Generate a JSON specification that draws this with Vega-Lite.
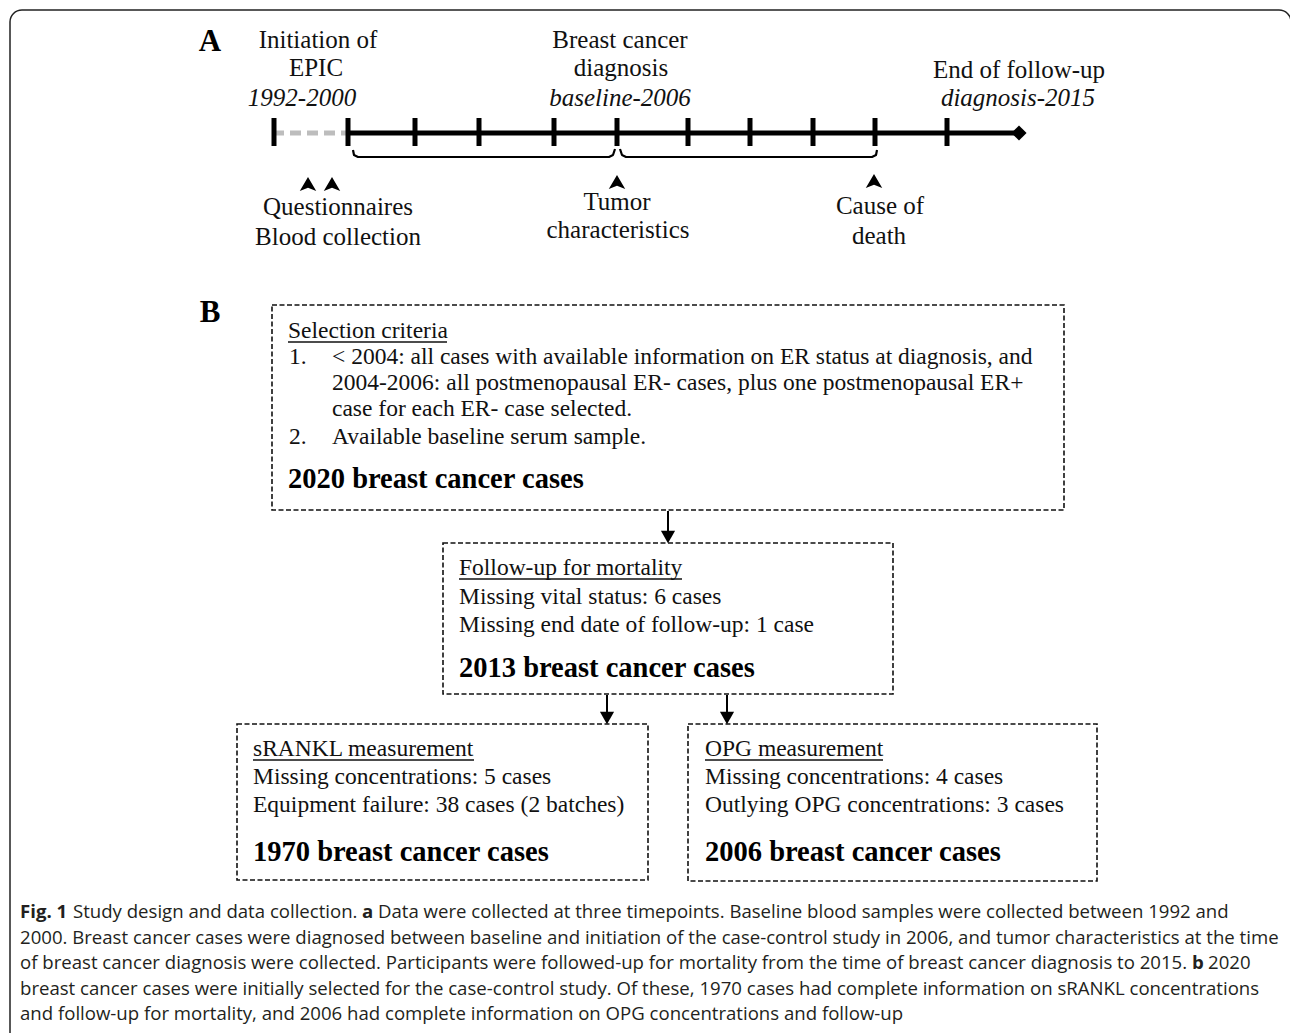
{
  "$schema": "https://vega.github.io/schema/vega-lite/v6.json",
  "width": 1290,
  "height": 1033,
  "padding": 0,
  "autosize": {"type": "none"},
  "background": "white",
  "config": {"view": {"stroke": null}},
  "datasets": {
    "frame": [{"x0": 10, "x1": 1291, "y0": 10, "y1": 1050}],
    "boxes": [
      {"id": "selection", "x0": 272, "x1": 1064, "y0": 305, "y1": 510},
      {"id": "followup", "x0": 443, "x1": 893, "y0": 543, "y1": 694},
      {"id": "srankl", "x0": 237, "x1": 648, "y0": 724, "y1": 880},
      {"id": "opg", "x0": 688, "x1": 1097, "y0": 724, "y1": 881}
    ],
    "timeline": [
      {"seg": "before", "x0": 273, "x1": 346, "y": 133},
      {"seg": "after", "x0": 348, "x1": 1019, "y": 133}
    ],
    "ticks": [
      {"x": 274, "y0": 118, "y1": 146}, {"x": 348, "y0": 118, "y1": 146},
      {"x": 415, "y0": 118, "y1": 146}, {"x": 479, "y0": 118, "y1": 146},
      {"x": 554, "y0": 118, "y1": 146}, {"x": 617, "y0": 118, "y1": 146},
      {"x": 688, "y0": 118, "y1": 146}, {"x": 750, "y0": 118, "y1": 146},
      {"x": 813, "y0": 118, "y1": 146}, {"x": 875, "y0": 118, "y1": 146},
      {"x": 947, "y0": 118, "y1": 146}
    ],
    "end": [{"x": 1019, "y": 133}],
    "brackets": [
      {"b": "pre", "o": 1, "x": 353, "y": 150}, {"b": "pre", "o": 2, "x": 354, "y": 155},
      {"b": "pre", "o": 3, "x": 358, "y": 157}, {"b": "pre", "o": 4, "x": 609, "y": 157},
      {"b": "pre", "o": 5, "x": 613, "y": 155}, {"b": "pre", "o": 6, "x": 615, "y": 149},
      {"b": "post", "o": 1, "x": 620, "y": 149}, {"b": "post", "o": 2, "x": 622, "y": 155},
      {"b": "post", "o": 3, "x": 626, "y": 157}, {"b": "post", "o": 4, "x": 872, "y": 157},
      {"b": "post", "o": 5, "x": 876, "y": 155}, {"b": "post", "o": 6, "x": 877, "y": 150}
    ],
    "pointers": [
      {"x": 308, "y": 184}, {"x": 332, "y": 184}, {"x": 617, "y": 182}, {"x": 874, "y": 181}
    ],
    "flows": [
      {"x": 668, "y0": 511, "y1": 534, "yh": 537},
      {"x": 607, "y0": 695, "y1": 715, "yh": 718},
      {"x": 727, "y0": 695, "y1": 715, "yh": 718}
    ],
    "underlines": [
      {"x0": 288, "x1": 447, "y": 342},
      {"x0": 459, "x1": 682, "y": 579},
      {"x0": 253, "x1": 474, "y": 760},
      {"x0": 705, "x1": 883, "y": 760}
    ],
    "texts": [
      {"role": "tl", "t": "Initiation of", "x": 318, "y": 40},
      {"role": "tl", "t": "EPIC", "x": 316, "y": 68},
      {"role": "tl", "t": "Breast cancer", "x": 620, "y": 40},
      {"role": "tl", "t": "diagnosis", "x": 621, "y": 68},
      {"role": "tl", "t": "End of follow-up", "x": 1019, "y": 70},
      {"role": "tl", "t": "Questionnaires", "x": 338, "y": 207},
      {"role": "tl", "t": "Blood collection", "x": 338, "y": 237},
      {"role": "tl", "t": "Tumor", "x": 617, "y": 202},
      {"role": "tl", "t": "characteristics", "x": 618, "y": 230},
      {"role": "tl", "t": "Cause of", "x": 880, "y": 206},
      {"role": "tl", "t": "death", "x": 879, "y": 236},
      {"role": "tli", "t": "1992-2000", "x": 302, "y": 98},
      {"role": "tli", "t": "baseline-2006", "x": 620, "y": 98},
      {"role": "tli", "t": "diagnosis-2015", "x": 1018, "y": 98},
      {"role": "panel", "t": "A", "x": 210, "y": 42},
      {"role": "panel", "t": "B", "x": 210, "y": 313},
      {"role": "body", "t": "Selection criteria", "x": 288, "y": 331},
      {"role": "body", "t": "1.", "x": 289, "y": 357},
      {"role": "body", "t": "< 2004: all cases with available information on ER status at diagnosis, and", "x": 332, "y": 357},
      {"role": "body", "t": "2004-2006: all postmenopausal ER- cases, plus one postmenopausal ER+", "x": 332, "y": 383},
      {"role": "body", "t": "case for each ER- case selected.", "x": 332, "y": 409},
      {"role": "body", "t": "2.", "x": 289, "y": 437},
      {"role": "body", "t": "Available baseline serum sample.", "x": 332, "y": 437},
      {"role": "body", "t": "Follow-up for mortality", "x": 459, "y": 568},
      {"role": "body", "t": "Missing vital status: 6 cases", "x": 459, "y": 597},
      {"role": "body", "t": "Missing end date of follow-up: 1 case", "x": 459, "y": 625},
      {"role": "body", "t": "sRANKL measurement", "x": 253, "y": 749},
      {"role": "body", "t": "Missing concentrations: 5 cases", "x": 253, "y": 777},
      {"role": "body", "t": "Equipment failure: 38 cases (2 batches)", "x": 253, "y": 805},
      {"role": "body", "t": "OPG measurement", "x": 705, "y": 749},
      {"role": "body", "t": "Missing concentrations: 4 cases", "x": 705, "y": 777},
      {"role": "body", "t": "Outlying OPG concentrations: 3 cases", "x": 705, "y": 805},
      {"role": "count", "t": "2020 breast cancer cases", "x": 288, "y": 479},
      {"role": "count", "t": "2013 breast cancer cases", "x": 459, "y": 668},
      {"role": "count", "t": "1970 breast cancer cases", "x": 253, "y": 852},
      {"role": "count", "t": "2006 breast cancer cases", "x": 705, "y": 852},
      {"role": "capb", "t": "Fig. 1", "x": 20, "y": 912},
      {"role": "cap", "t": "Study design and data collection.", "x": 73, "y": 912},
      {"role": "capb", "t": "a", "x": 362, "y": 912},
      {"role": "cap", "t": "Data were collected at three timepoints. Baseline blood samples were collected between 1992 and", "x": 378, "y": 912},
      {"role": "cap", "t": "2000. Breast cancer cases were diagnosed between baseline and initiation of the case-control study in 2006, and tumor characteristics at the time", "x": 20, "y": 938},
      {"role": "cap", "t": "of breast cancer diagnosis were collected. Participants were followed-up for mortality from the time of breast cancer diagnosis to 2015.", "x": 20, "y": 963},
      {"role": "capb", "t": "b", "x": 1192, "y": 963},
      {"role": "cap", "t": "2020", "x": 1208, "y": 963},
      {"role": "cap", "t": "breast cancer cases were initially selected for the case-control study. Of these, 1970 cases had complete information on sRANKL concentrations", "x": 20, "y": 989},
      {"role": "cap", "t": "and follow-up for mortality, and 2006 had complete information on OPG concentrations and follow-up", "x": 20, "y": 1014}
    ]
  },
  "layer": [
    {
      "data": {"name": "frame"},
      "mark": {"type": "rect", "fill": "white", "fillOpacity": 0, "stroke": "#222222", "strokeWidth": 1.5, "cornerRadius": 12},
      "encoding": {
        "x": {"field": "x0", "type": "quantitative", "scale": {"domain": [0, 1290], "nice": false, "zero": false}, "axis": null},
        "x2": {"field": "x1"},
        "y": {"field": "y0", "type": "quantitative", "scale": {"domain": [0, 1033], "nice": false, "zero": false, "reverse": true}, "axis": null},
        "y2": {"field": "y1"}
      }
    },
    {
      "data": {"name": "boxes"},
      "mark": {"type": "rect", "fill": "white", "fillOpacity": 0, "stroke": "#111111", "strokeWidth": 1.6, "strokeDash": [5, 2.5]},
      "encoding": {
        "x": {"field": "x0", "type": "quantitative", "axis": null},
        "x2": {"field": "x1"},
        "y": {"field": "y0", "type": "quantitative", "axis": null},
        "y2": {"field": "y1"}
      }
    },
    {
      "data": {"name": "timeline"},
      "transform": [{"filter": "datum.seg === 'before'"}],
      "mark": {"type": "rule", "stroke": "#bdbdbd", "strokeWidth": 5, "strokeDash": [11, 6]},
      "encoding": {
        "x": {"field": "x0", "type": "quantitative", "axis": null},
        "x2": {"field": "x1"},
        "y": {"field": "y", "type": "quantitative", "axis": null}
      }
    },
    {
      "data": {"name": "timeline"},
      "transform": [{"filter": "datum.seg === 'after'"}],
      "mark": {"type": "rule", "stroke": "#000000", "strokeWidth": 5},
      "encoding": {
        "x": {"field": "x0", "type": "quantitative", "axis": null},
        "x2": {"field": "x1"},
        "y": {"field": "y", "type": "quantitative", "axis": null}
      }
    },
    {
      "data": {"name": "ticks"},
      "mark": {"type": "rule", "stroke": "#000000", "strokeWidth": 5},
      "encoding": {
        "x": {"field": "x", "type": "quantitative", "axis": null},
        "y": {"field": "y0", "type": "quantitative", "axis": null},
        "y2": {"field": "y1"}
      }
    },
    {
      "data": {"name": "end"},
      "mark": {"type": "point", "shape": "diamond", "filled": true, "color": "#000000", "size": 230, "opacity": 1},
      "encoding": {
        "x": {"field": "x", "type": "quantitative", "axis": null},
        "y": {"field": "y", "type": "quantitative", "axis": null}
      }
    },
    {
      "data": {"name": "brackets"},
      "mark": {"type": "line", "stroke": "#000000", "strokeWidth": 2.2, "strokeJoin": "round"},
      "encoding": {
        "x": {"field": "x", "type": "quantitative", "axis": null},
        "y": {"field": "y", "type": "quantitative", "axis": null},
        "detail": {"field": "b"},
        "order": {"field": "o"}
      }
    },
    {
      "data": {"name": "pointers"},
      "mark": {"type": "point", "shape": "M0,-0.85L1,0.85L0,0.45L-1,0.85Z", "filled": true, "color": "#000000", "size": 270, "opacity": 1},
      "encoding": {
        "x": {"field": "x", "type": "quantitative", "axis": null},
        "y": {"field": "y", "type": "quantitative", "axis": null}
      }
    },
    {
      "data": {"name": "flows"},
      "mark": {"type": "rule", "stroke": "#000000", "strokeWidth": 2},
      "encoding": {
        "x": {"field": "x", "type": "quantitative", "axis": null},
        "y": {"field": "y0", "type": "quantitative", "axis": null},
        "y2": {"field": "y1"}
      }
    },
    {
      "data": {"name": "flows"},
      "mark": {"type": "point", "shape": "M-1,-0.9L1,-0.9L0,0.9Z", "filled": true, "color": "#000000", "size": 200, "opacity": 1},
      "encoding": {
        "x": {"field": "x", "type": "quantitative", "axis": null},
        "y": {"field": "yh", "type": "quantitative", "axis": null}
      }
    },
    {
      "data": {"name": "underlines"},
      "mark": {"type": "rule", "stroke": "#111111", "strokeWidth": 1.3},
      "encoding": {
        "x": {"field": "x0", "type": "quantitative", "axis": null},
        "x2": {"field": "x1"},
        "y": {"field": "y", "type": "quantitative", "axis": null}
      }
    },
    {
      "data": {"name": "texts"},
      "transform": [{"filter": "datum.role === 'tl'"}],
      "mark": {"type": "text", "font": "Liberation Serif", "fontSize": 25, "align": "center", "baseline": "middle", "color": "#111111"},
      "encoding": {
        "x": {"field": "x", "type": "quantitative", "axis": null},
        "y": {"field": "y", "type": "quantitative", "axis": null},
        "text": {"field": "t"}
      }
    },
    {
      "data": {"name": "texts"},
      "transform": [{"filter": "datum.role === 'tli'"}],
      "mark": {"type": "text", "font": "Liberation Serif", "fontSize": 25, "fontStyle": "italic", "align": "center", "baseline": "middle", "color": "#111111"},
      "encoding": {
        "x": {"field": "x", "type": "quantitative", "axis": null},
        "y": {"field": "y", "type": "quantitative", "axis": null},
        "text": {"field": "t"}
      }
    },
    {
      "data": {"name": "texts"},
      "transform": [{"filter": "datum.role === 'panel'"}],
      "mark": {"type": "text", "font": "Liberation Serif", "fontSize": 31, "fontWeight": "bold", "align": "center", "baseline": "middle", "color": "#000000"},
      "encoding": {
        "x": {"field": "x", "type": "quantitative", "axis": null},
        "y": {"field": "y", "type": "quantitative", "axis": null},
        "text": {"field": "t"}
      }
    },
    {
      "data": {"name": "texts"},
      "transform": [{"filter": "datum.role === 'body'"}],
      "mark": {"type": "text", "font": "Liberation Serif", "fontSize": 23.5, "align": "left", "baseline": "middle", "color": "#111111"},
      "encoding": {
        "x": {"field": "x", "type": "quantitative", "axis": null},
        "y": {"field": "y", "type": "quantitative", "axis": null},
        "text": {"field": "t"}
      }
    },
    {
      "data": {"name": "texts"},
      "transform": [{"filter": "datum.role === 'count'"}],
      "mark": {"type": "text", "font": "Liberation Serif", "fontSize": 28.5, "fontWeight": "bold", "align": "left", "baseline": "middle", "color": "#000000"},
      "encoding": {
        "x": {"field": "x", "type": "quantitative", "axis": null},
        "y": {"field": "y", "type": "quantitative", "axis": null},
        "text": {"field": "t"}
      }
    },
    {
      "data": {"name": "texts"},
      "transform": [{"filter": "datum.role === 'cap'"}],
      "mark": {"type": "text", "font": "Open Sans", "fontSize": 18.6, "align": "left", "baseline": "middle", "color": "#231f20"},
      "encoding": {
        "x": {"field": "x", "type": "quantitative", "axis": null},
        "y": {"field": "y", "type": "quantitative", "axis": null},
        "text": {"field": "t"}
      }
    },
    {
      "data": {"name": "texts"},
      "transform": [{"filter": "datum.role === 'capb'"}],
      "mark": {"type": "text", "font": "Open Sans", "fontSize": 18.6, "fontWeight": "bold", "align": "left", "baseline": "middle", "color": "#231f20"},
      "encoding": {
        "x": {"field": "x", "type": "quantitative", "axis": null},
        "y": {"field": "y", "type": "quantitative", "axis": null},
        "text": {"field": "t"}
      }
    }
  ]
}
